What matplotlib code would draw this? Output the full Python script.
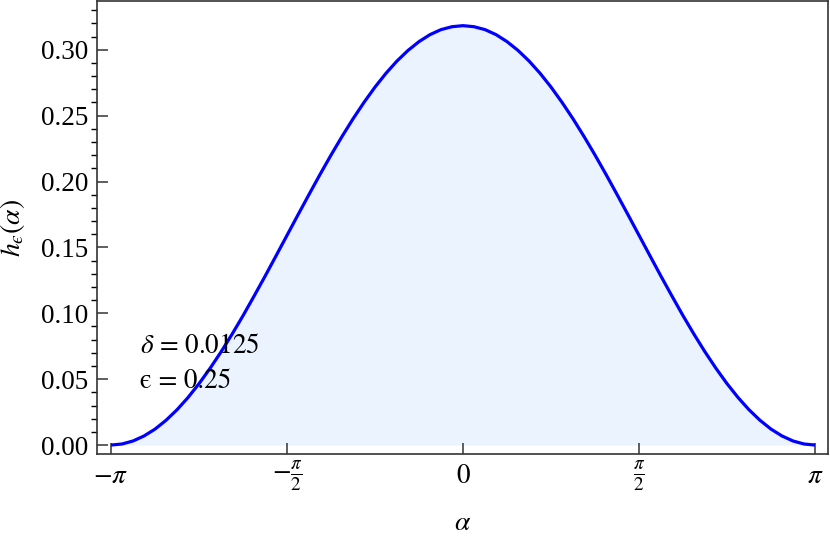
import matplotlib
matplotlib.use("Agg")
import matplotlib.pyplot as plt
import numpy as np

plt.rcParams['font.family'] = ['Liberation Serif', 'DejaVu Serif']
plt.rcParams['mathtext.fontset'] = 'stix'

# values at alpha = k*pi/32, k = -32..32
h_vals = [0.0000, 0.0008, 0.0031, 0.0069, 0.0121, 0.0188, 0.0268, 0.0361,
          0.0466, 0.0582, 0.0707, 0.0841, 0.0982, 0.1130, 0.1281, 0.1436,
          0.1592, 0.1748, 0.1902, 0.2054, 0.2201, 0.2342, 0.2476, 0.2601,
          0.2717, 0.2822, 0.2915, 0.2995, 0.3062, 0.3115, 0.3153, 0.3175,
          0.3183,
          0.3175, 0.3153, 0.3115, 0.3062, 0.2995, 0.2915, 0.2822, 0.2717,
          0.2601, 0.2476, 0.2342, 0.2201, 0.2054, 0.1902, 0.1748, 0.1592,
          0.1436, 0.1281, 0.1130, 0.0982, 0.0841, 0.0707, 0.0582, 0.0466,
          0.0361, 0.0268, 0.0188, 0.0121, 0.0069, 0.0031, 0.0008, 0.0000]
alpha = np.arange(-32, 33) * np.pi / 32

xtick_pos = [-np.pi, -np.pi / 2, 0, np.pi / 2, np.pi]
xtick_lab = [r'$-\pi$', r'$-\frac{\pi}{2}$', r'$0$', r'$\frac{\pi}{2}$', r'$\pi$']
ytick_pos = [0.00, 0.05, 0.10, 0.15, 0.20, 0.25, 0.30]

fig = plt.figure(figsize=(8.3, 5.38), dpi=100)
ax = fig.add_axes([0.1169, 0.1561, 0.8807, 0.842])

ax.fill_between(alpha, 0, h_vals, color='#ebf4fe', lw=0)
ax.plot(alpha, h_vals, color='#0000ff', lw=2.3, solid_capstyle='butt')

ax.set_xlim(-np.pi - 0.125, np.pi + 0.116)
ax.set_ylim(-0.0068, 0.337)

ax.set_xticks(xtick_pos)
ax.set_xticklabels(xtick_lab)
ax.set_yticks(ytick_pos)
ax.set_yticklabels(['%.2f' % v for v in ytick_pos])
ax.set_yticks(np.arange(0, 0.34, 0.01), minor=True)

ax.tick_params(axis='both', direction='in', colors='#333333', labelcolor='black',
               labelsize=19.5, width=1.1)
ax.tick_params(axis='both', which='major', length=8)
ax.tick_params(axis='y', which='minor', length=4, width=1.0)
ax.tick_params(axis='x', pad=16)
ax.tick_params(axis='y', pad=6)
for lab in ax.get_xticklabels():
    lab.set_va('center')

for s in ax.spines.values():
    s.set_color('#333333')
    s.set_linewidth(1.2)

ax.set_xlabel(r'$\alpha$', fontsize=20, labelpad=12)
ax.set_ylabel('$h_{\u03f5}(\\alpha)$', fontsize=20, labelpad=10)

ax.text(-2.88, 0.0745, r'$\delta$ = 0.0125', fontsize=19.5, va='center',
        family=['STIXGeneral', 'DejaVu Serif'])
ax.text(-2.88, 0.048, '\u03f5 = 0.25', fontsize=19.5, va='center',
        family=['STIXGeneral', 'DejaVu Serif'])

fig.savefig('out.png', dpi=100)
